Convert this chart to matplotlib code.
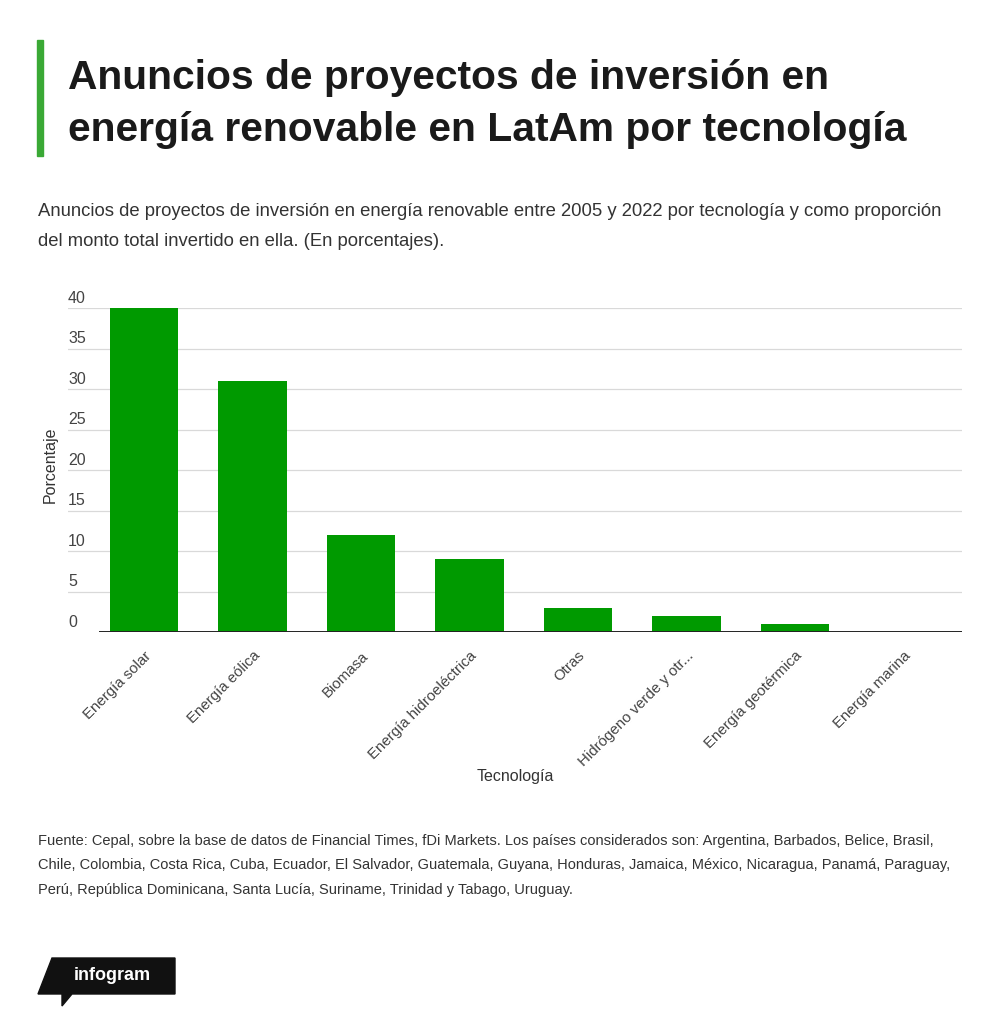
import matplotlib.pyplot as plt
from matplotlib.patches import Polygon

categories = ["Energía solar", "Energía eólica", "Biomasa", "Energía hidroeléctrica",
              "Otras", "Hidrógeno verde y otr...", "Energía geotérmica", "Energía marina"]
values = [40, 31, 12, 9, 3, 2, 1, 0.05]
yticks = [0, 5, 10, 15, 20, 25, 30, 35, 40]

plt.rcParams["font.family"] = ["Liberation Sans", "DejaVu Sans"]
W, H = 1000, 1026
fig = plt.figure(figsize=(W / 100, H / 100), dpi=100)

def fx(px):
    return px / W

def fy(py):
    return 1 - py / H

# header
fig.patches.append(plt.Rectangle((fx(37), fy(156)), fx(6), (156 - 40) / H,
                                 transform=fig.transFigure, color="#3aa935"))
fig.text(fx(68), fy(78), "Anuncios de proyectos de inversión en", fontsize=29.3,
         fontweight="bold", va="center", color="#1a1a1a")
fig.text(fx(68), fy(130), "energía renovable en LatAm por tecnología", fontsize=29.3,
         fontweight="bold", va="center", color="#1a1a1a")
fig.text(fx(38), fy(211), "Anuncios de proyectos de inversión en energía renovable entre 2005 y 2022 por tecnología y como proporción",
         fontsize=13.3, va="center", color="#333333")
fig.text(fx(38), fy(242), "del monto total invertido en ella. (En porcentajes).",
         fontsize=13.3, va="center", color="#333333")

# chart
ax = fig.add_axes([fx(68), fy(632), fx(962 - 68), (632 - 308) / H])
x = list(range(len(categories)))
ax.bar(x, values, width=0.63, color="#009a00", zorder=3)
ax.set_xlim(-0.70, 7.54)
ax.set_ylim(0, 40)
for t in yticks:
    if t > 0:
        ax.axhline(t, color="#d9d9d9", lw=0.9, zorder=1)
    ax.text(0, t + 0.3, str(t), transform=ax.get_yaxis_transform(), fontsize=11.5,
            color="#444444", va="bottom", ha="left")
ax.axhline(0, xmin=(100 - 68) / (962 - 68), color="#222222", lw=1.4, zorder=4)
for s in ax.spines.values():
    s.set_visible(False)
ax.set_yticks([])
ax.set_xticks(x)
ax.set_xticklabels(categories, rotation=45, ha="right", rotation_mode="anchor",
                   fontsize=10.8, color="#444444")
ax.tick_params(axis="x", length=0, pad=12)
fig.text(fx(50), fy(465), "Porcentaje", rotation=90, fontsize=11.5, color="#333333",
         va="center", ha="center")
fig.text(fx(515), fy(776), "Tecnología", fontsize=11.5, color="#333333", va="center", ha="center")

# footer
footer = ["Fuente: Cepal, sobre la base de datos de Financial Times, fDi Markets. Los países considerados son: Argentina, Barbados, Belice, Brasil,",
          "Chile, Colombia, Costa Rica, Cuba, Ecuador, El Salvador, Guatemala, Guyana, Honduras, Jamaica, México, Nicaragua, Panamá, Paraguay,",
          "Perú, República Dominicana, Santa Lucía, Suriname, Trinidad y Tabago, Uruguay."]
for i, line in enumerate(footer):
    fig.text(fx(38), fy(841 + 24.5 * i), line, fontsize=10.55, color="#333333", va="center")

# logo
logo = Polygon([(fx(52), fy(958)), (fx(175), fy(958)), (fx(175), fy(994)),
                (fx(72), fy(994)), (fx(62), fy(1006)), (fx(62), fy(994)),
                (fx(38), fy(994))], closed=True, transform=fig.transFigure, color="#111111")
fig.patches.append(logo)
fig.text(fx(112), fy(975), "infogram", fontsize=13, fontweight="bold", color="white",
         va="center", ha="center")

fig.savefig("out.png", dpi=100, facecolor="white")
